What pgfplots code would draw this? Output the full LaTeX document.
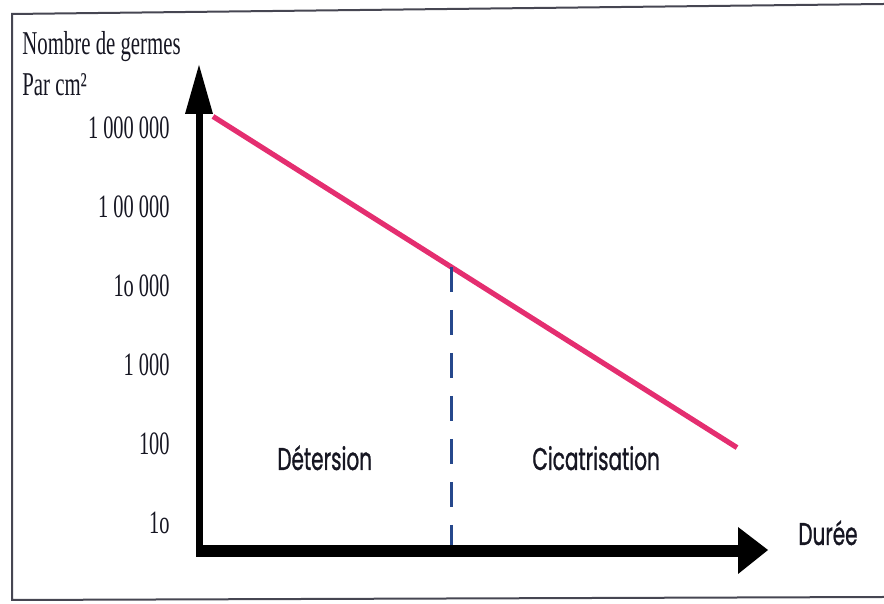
\documentclass[border=0pt]{standalone}
\usepackage{graphicx}
\usepackage{fontspec}
\setmainfont{Liberation Serif}
\newfontfamily\comic{Poppins}[FakeBold=1.2]
\usepackage{pgfplots}
\pgfplotsset{compat=1.18}
\definecolor{pinkline}{RGB}{228,46,112}
\definecolor{dashblue}{RGB}{38,72,140}
\definecolor{framegrey}{RGB}{70,70,82}
\definecolor{inktext}{RGB}{22,22,34}
\newcommand{\vs}[1]{\scalebox{1}[1.6]{#1}}
\newcommand{\vc}[1]{\scalebox{1}[1.57]{#1}}
\begin{document}
\begin{tikzpicture}
\useasboundingbox (0,0) rectangle (442pt,302pt);
\begin{axis}[
  at={(0,0)}, anchor=south west,
  width=442pt, height=302pt, scale only axis,
  xmin=0, xmax=884,
  ymode=log, ymin=0.943, ymax=4.17e7,
  axis line style={draw=none},
  xtick=\empty,
  ytick={10,100,1000,10000,100000,1000000},
  yticklabels={\vs{1o},\vs{100},\vs{1 000},\vs{1o 000},\vs{1 00 000},\vs{1 000 000}},
  yminorticks=false,
  major tick length=0pt,
  yticklabel style={anchor=east, inner sep=0pt, xshift=85pt, text=inktext, font=\fontsize{10.2}{12}\selectfont},
  clip=false,
]
\addplot[pinkline, line width=2.6pt] coordinates {(213,1400000) (737,90)};
\addplot[dashblue, line width=1.5pt, dash pattern=on 12.5pt off 9pt] coordinates {(451,17500) (451,5)};
\end{axis}
\begin{scope}[shift={(0pt,302pt)}, x=0.5pt, y=-0.5pt]
  % frame
  \draw[framegrey, line width=1pt] (884,4) -- (12,14) -- (12,600) -- (884,597);
  % y axis arrow
  \draw[black, line width=3.5pt] (199.5,557) -- (199.5,110);
  \fill[black] (185,114) -- (213,114) -- (199,65) -- cycle;
  % x axis arrow
  \draw[black, line width=6pt] (196,551) -- (741,551);
  \fill[black] (738,527) -- (738,574) -- (768,550) -- cycle;
  % titles
  \node[anchor=base west, inner sep=0pt, text=inktext, font=\fontsize{10.4}{12}\selectfont] at (22,55) {\vs{Nombre de germes}};
  \node[anchor=base west, inner sep=0pt, text=inktext, font=\fontsize{10.4}{12}\selectfont] at (22,96) {\vs{Par cm²}};
  % zone labels
  \node[anchor=base west, inner sep=0pt, text=inktext, font=\comic\fontsize{10}{12}\selectfont] at (277,470) {\vc{Détersion}};
  \node[anchor=base west, inner sep=0pt, text=inktext, font=\comic\fontsize{10}{12}\selectfont] at (532,470) {\vc{Cicatrisation}};
  \node[anchor=base west, inner sep=0pt, text=inktext, font=\comic\fontsize{10}{12}\selectfont] at (798,545) {\vc{Durée}};
\end{scope}
\end{tikzpicture}
\end{document}
